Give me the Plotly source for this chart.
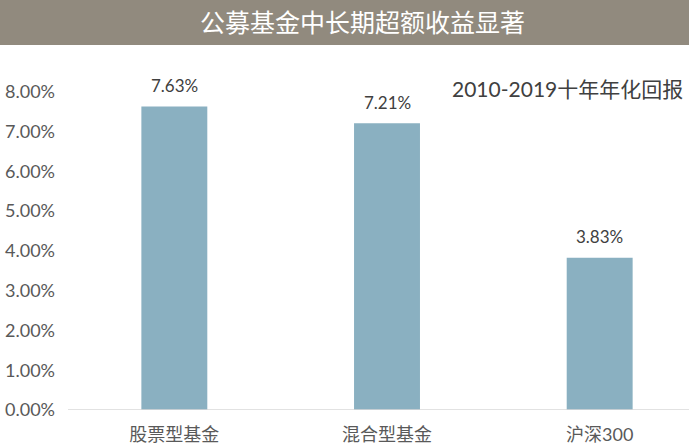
import plotly.graph_objects as go

categories = ["股票型基金", "混合型基金", "沪深300"]
values = [7.63, 7.21, 3.83]
labels = ["7.63%", "7.21%", "3.83%"]
tick_vals = [0, 1, 2, 3, 4, 5, 6, 7, 8]
tick_text = ["0.00%", "1.00%", "2.00%", "3.00%", "4.00%", "5.00%", "6.00%", "7.00%", "8.00%"]

FONT = "Lato, 'Noto Sans CJK SC', sans-serif"
W, H = 689, 447
L, R, T, B = 68, 0, 52, 37
pw, ph = W - L - R, H - T - B

fig = go.Figure()
fig.add_trace(go.Bar(
    x=[0, 1, 2], y=values, width=0.31,
    marker=dict(color="#8AB0C1", line=dict(width=0)),
))

def py(pix):
    return (H - B - pix) / ph

def px(pix):
    return (pix - L) / pw

annotations = [
    dict(text="公募基金中长期超额收益显著", xref="paper", yref="paper",
         x=px(362), y=py(22), showarrow=False, xanchor="center", yanchor="middle",
         font=dict(family=FONT, size=25, color="white")),
    dict(text="2010-2019十年年化回报", xref="paper", yref="paper",
         x=px(685), y=py(88), showarrow=False, xanchor="right", yanchor="middle",
         font=dict(family=FONT, size=21, color="#404040")),
]
for i, (v, lab) in enumerate(zip(values, labels)):
    annotations.append(dict(text=lab, x=i, y=v, xref="x", yref="y", showarrow=False,
                            xanchor="center", yanchor="middle", yshift=21,
                            font=dict(family=FONT, size=17, color="#404040")))

fig.update_layout(
    width=W, height=H,
    margin=dict(l=L, r=R, t=T, b=B),
    paper_bgcolor="white", plot_bgcolor="white",
    showlegend=False,
    font=dict(family=FONT, color="#595959"),
    xaxis=dict(range=[-0.5, 2.42], tickvals=[0, 1, 2], ticktext=categories,
               showgrid=False, zeroline=False, showline=False, ticks="",
               ticklabelstandoff=12,
               tickfont=dict(family=FONT, size=18, color="#595959")),
    yaxis=dict(range=[0, 9], tickvals=tick_vals, ticktext=tick_text,
               showgrid=False, zeroline=False, showline=False, ticks="",
               ticklabelstandoff=12,
               tickfont=dict(family=FONT, size=18, color="#595959")),
    shapes=[
        dict(type="rect", xref="paper", yref="paper",
             x0=px(0), x1=px(W), y0=py(45), y1=py(0),
             fillcolor="#918A7E", line=dict(width=0), layer="below"),
        dict(type="line", xref="paper", yref="y",
             x0=0, x1=1, y0=0, y1=0, line=dict(color="#D9D9D9", width=1.5)),
    ],
    annotations=annotations,
)

fig.write_html("out.html")
